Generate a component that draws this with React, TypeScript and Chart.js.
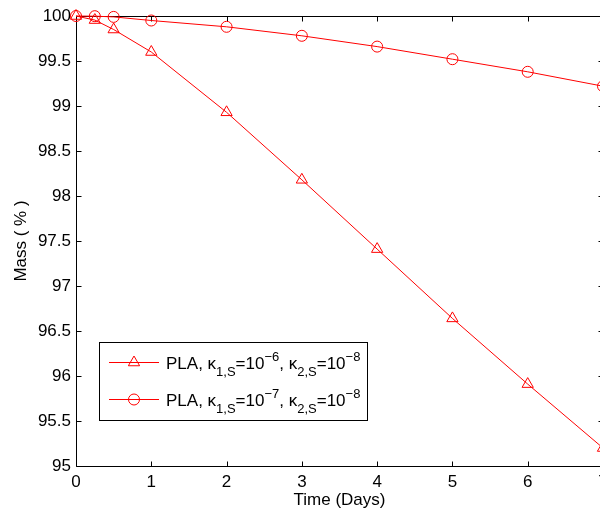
import React, { useEffect, useRef } from 'react';
import { Chart, registerables } from 'chart.js';

Chart.register(...registerables);

const days = [0, 0.25, 0.5, 1, 2, 3, 4, 5, 6, 7];
const massK1e6 = [100, 99.955, 99.85, 99.6, 98.93, 98.18, 97.41, 96.64, 95.91, 95.2];
const massK1e7 = [100, 99.998, 99.99, 99.95, 99.88, 99.78, 99.66, 99.52, 99.38, 99.22];
const xTicks = [0, 1, 2, 3, 4, 5, 6, 7];
const yTicks = [95, 95.5, 96, 96.5, 97, 97.5, 98, 98.5, 99, 99.5, 100];
const xTitle = 'Time (Days)';
const yTitle = 'Mass ( % )';

type Part = [string, 'n' | 'sub' | 'sup'];
const legendLabels: Part[][] = [
  [['PLA, κ', 'n'], ['1,S', 'sub'], ['=10', 'n'], ['−6', 'sup'], [', κ', 'n'], ['2,S', 'sub'], ['=10', 'n'], ['−8', 'sup']],
  [['PLA, κ', 'n'], ['1,S', 'sub'], ['=10', 'n'], ['−7', 'sup'], [', κ', 'n'], ['2,S', 'sub'], ['=10', 'n'], ['−8', 'sup']],
];
const legendMarkers = ['triangle', 'circle'];

const FONT = '"Liberation Sans", Arial, Helvetica, sans-serif';
const RED = 'rgb(255,0,0)';

const framePlugin = {
  id: 'matlabFrame',
  beforeDatasetsDraw(chart: any) {
    const { ctx, chartArea } = chart;
    const { left, right, top, bottom } = chartArea;
    const xs = chart.scales.x;
    const ys = chart.scales.y;
    const L = Math.round(left) + 0.5;
    const R = Math.round(right) + 0.5;
    const T = Math.round(top) + 0.5;
    const B = Math.round(bottom) + 0.5;
    ctx.save();
    ctx.strokeStyle = '#000';
    ctx.lineWidth = 1;
    ctx.beginPath();
    ctx.rect(L, T, R - L, B - T);
    const tl = 5;
    xTicks.forEach((v) => {
      const px = Math.round(xs.getPixelForValue(v)) + 0.5;
      ctx.moveTo(px, B);
      ctx.lineTo(px, B - tl);
      ctx.moveTo(px, T);
      ctx.lineTo(px, T + tl);
    });
    yTicks.forEach((v) => {
      const py = Math.round(ys.getPixelForValue(v)) + 0.5;
      ctx.moveTo(L, py);
      ctx.lineTo(L + tl, py);
      ctx.moveTo(R, py);
      ctx.lineTo(R - tl, py);
    });
    ctx.stroke();
    ctx.restore();
  },
  afterDatasetsDraw(chart: any) {
    const { ctx } = chart;
    const bx = 99.5, by = 342.5, bw = 268, bh = 78;
    ctx.save();
    ctx.fillStyle = '#fff';
    ctx.fillRect(bx, by, bw, bh);
    ctx.strokeStyle = '#000';
    ctx.lineWidth = 1;
    ctx.strokeRect(bx, by, bw, bh);
    const rows = [362, 399];
    rows.forEach((ry, i) => {
      ctx.strokeStyle = RED;
      ctx.lineWidth = 1;
      ctx.beginPath();
      ctx.moveTo(109, ry + 0.5);
      ctx.lineTo(159, ry + 0.5);
      ctx.stroke();
      ctx.beginPath();
      if (legendMarkers[i] === 'circle') {
        ctx.arc(134, ry + 0.5, 5.5, 0, Math.PI * 2);
      } else {
        const r = 6.5;
        const cy = ry + 0.5;
        ctx.moveTo(134, cy - r);
        ctx.lineTo(134 + r * Math.sin((2 * Math.PI) / 3), cy - r * Math.cos((2 * Math.PI) / 3));
        ctx.lineTo(134 - r * Math.sin((2 * Math.PI) / 3), cy - r * Math.cos((2 * Math.PI) / 3));
        ctx.closePath();
      }
      ctx.stroke();
      let x = 166;
      const base = ry + 7;
      ctx.fillStyle = '#000';
      ctx.textBaseline = 'alphabetic';
      ctx.textAlign = 'left';
      legendLabels[i].forEach(([txt, kind]) => {
        if (kind === 'n') {
          ctx.font = `17px ${FONT}`;
          ctx.fillText(txt, x, base);
        } else if (kind === 'sub') {
          ctx.font = `13px ${FONT}`;
          ctx.fillText(txt, x, base + 7);
        } else {
          ctx.font = `13px ${FONT}`;
          ctx.fillText(txt, x, base - 8);
        }
        x += ctx.measureText(txt).width;
      });
    });
    ctx.restore();
  },
};

export default function App() {
  const ref = useRef<HTMLCanvasElement | null>(null);
  useEffect(() => {
    if (!ref.current) return;
    Chart.defaults.font.family = FONT;
    Chart.defaults.color = '#000';
    const pointStyleCommon = {
      borderColor: RED,
      backgroundColor: 'rgba(0,0,0,0)',
      borderWidth: 1,
      pointBorderWidth: 1,
      pointBackgroundColor: 'rgba(0,0,0,0)',
      pointBorderColor: RED,
      fill: false,
      tension: 0,
      clip: false as any,
    };
    const chart = new Chart(ref.current, {
      type: 'line',
      data: {
        datasets: [
          {
            ...pointStyleCommon,
            label: 'k1e-6',
            data: days.map((d, i) => ({ x: d, y: massK1e6[i] })),
            pointStyle: 'triangle',
            pointRadius: 6.5,
          },
          {
            ...pointStyleCommon,
            label: 'k1e-7',
            data: days.map((d, i) => ({ x: d, y: massK1e7[i] })),
            pointStyle: 'circle',
            pointRadius: 5.5,
          },
        ],
      },
      options: {
        animation: false,
        responsive: false,
        devicePixelRatio: 1,
        layout: { padding: { left: 0, right: 17, top: 16, bottom: 0 } },
        plugins: { legend: { display: false }, tooltip: { enabled: false } },
        scales: {
          x: {
            type: 'linear',
            min: 0,
            max: 7,
            grid: { display: false, drawTicks: false },
            border: { display: false },
            afterBuildTicks: (s: any) => {
              s.ticks = xTicks.map((v) => ({ value: v }));
            },
            afterFit: (s: any) => {
              s.height = 50;
            },
            ticks: {
              font: { size: 17 },
              padding: 6,
              maxRotation: 0,
              autoSkip: false,
              callback: (v: any) => String(v),
            },
            title: {
              display: true,
              text: xTitle,
              font: { size: 17 },
              padding: { top: 0, bottom: 5 },
            },
          },
          y: {
            type: 'linear',
            min: 95,
            max: 100,
            grid: { display: false, drawTicks: false },
            border: { display: false },
            afterBuildTicks: (s: any) => {
              s.ticks = yTicks.map((v) => ({ value: v }));
            },
            afterFit: (s: any) => {
              s.width = 76;
            },
            ticks: {
              font: { size: 17 },
              padding: 5,
              autoSkip: false,
              callback: (v: any) => String(v),
            },
            title: {
              display: true,
              text: yTitle,
              font: { size: 17 },
              padding: { top: 11, bottom: 0 },
            },
          },
        },
      },
      plugins: [framePlugin],
    });
    return () => chart.destroy();
  }, []);
  return (
    <div style={{ position: 'fixed', left: 0, top: 0, width: 600, height: 516, overflow: 'hidden', background: '#fff' }}>
      <canvas ref={ref} width={620} height={516} style={{ width: 620, height: 516, display: 'block' }} />
    </div>
  );
}
